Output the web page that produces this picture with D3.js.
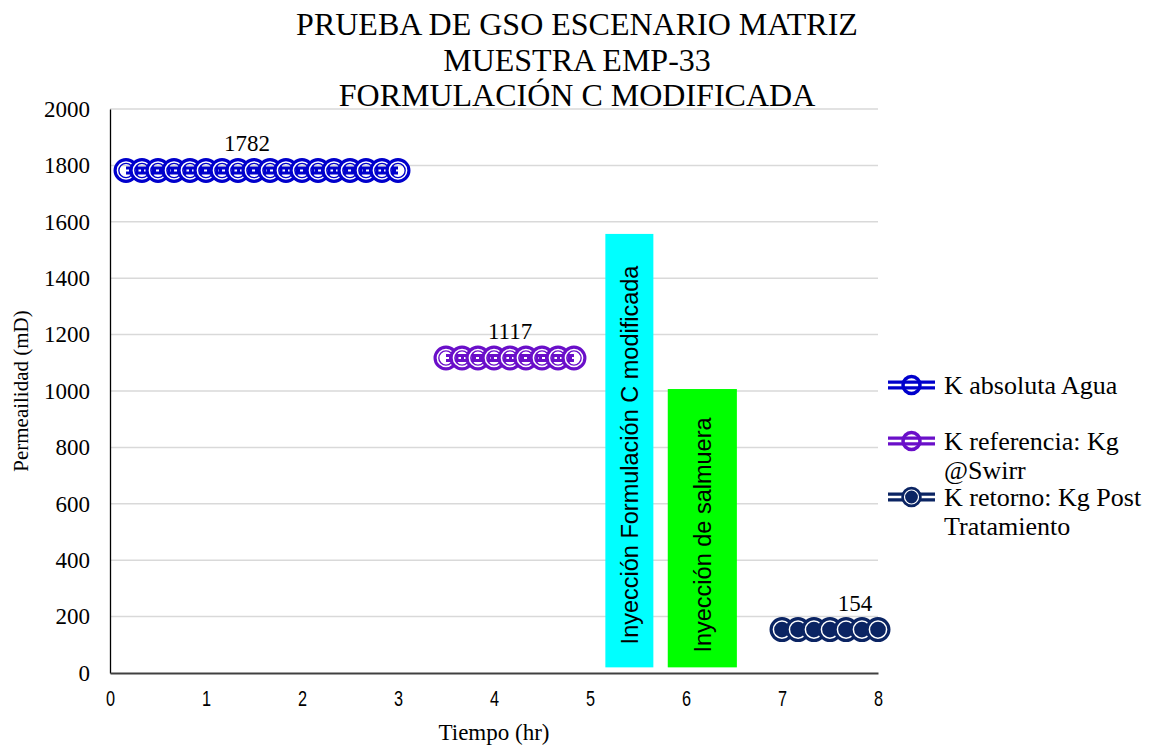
<!DOCTYPE html>
<html>
<head>
<meta charset="utf-8">
<script src="https://cdn.jsdelivr.net/npm/d3@7"></script>
<style>
  html, body { margin: 0; padding: 0; background: #fff; }
  svg { display: block; }
</style>
</head>
<body>
<svg id="chart" width="1152" height="746"></svg>
<script>
// ---- data ----
const titleLines = ["PRUEBA DE GSO ESCENARIO MATRIZ", "MUESTRA EMP-33", "FORMULACIÓN C MODIFICADA"];
const xTicks = [0, 1, 2, 3, 4, 5, 6, 7, 8];
const yTicks = [0, 200, 400, 600, 800, 1000, 1200, 1400, 1600, 1800, 2000];

// time in hours (10-minute readings) and permeability in mD
const aguaTime = [0.167, 0.333, 0.5, 0.667, 0.833, 1.0, 1.167, 1.333, 1.5, 1.667, 1.833, 2.0, 2.167, 2.333, 2.5, 2.667, 2.833, 3.0];
const aguaK    = [1782, 1782, 1782, 1782, 1782, 1782, 1782, 1782, 1782, 1782, 1782, 1782, 1782, 1782, 1782, 1782, 1782, 1782];
const refTime  = [3.5, 3.667, 3.833, 4.0, 4.167, 4.333, 4.5, 4.667, 4.833];
const refK     = [1117, 1117, 1117, 1117, 1117, 1117, 1117, 1117, 1117];
const retTime  = [7.0, 7.167, 7.333, 7.5, 7.667, 7.833, 8.0];
const retK     = [154, 154, 154, 154, 154, 154, 154];

const seriesNames  = ["K absoluta Agua", "K referencia: Kg @Swirr", "K retorno: Kg Post Tratamiento"];
const seriesColors = ["#0000cc", "#6a0fc9", "#0b2463"];
const labelIndex   = [8, 4, 5];

// injection stages: [start hr, end hr, low mD, high mD]
const stageNames  = ["Inyección Formulación C modificada", "Inyección de salmuera"];
const stageStart  = [5.16, 5.81];
const stageEnd    = [5.66, 6.53];
const stageLow    = [20, 20];
const stageHigh   = [1557, 1007];
const stageColors = ["#00ffff", "#00ff00"];

// ---- layout ----
const svg = d3.select("#chart");
const x = d3.scaleLinear().domain([0, 8]).range([110, 878]);
const y = d3.scaleLinear().domain([0, 2000]).range([673, 109]);

const serif = "'Liberation Serif', 'Times New Roman', serif";
const sans = "'Liberation Sans', Arial, sans-serif";

// title
svg.append("g").selectAll("text").data(titleLines).join("text")
  .attr("x", 577).attr("y", (d, i) => 35 + i * 35.5)
  .attr("text-anchor", "middle")
  .attr("font-family", serif).attr("font-size", 32).attr("fill", "#000")
  .text(d => d);

// gridlines
svg.append("g").selectAll("line").data(yTicks.filter(v => v > 0)).join("line")
  .attr("x1", x(0)).attr("x2", x(8))
  .attr("y1", d => y(d)).attr("y2", d => y(d))
  .attr("stroke", "#d9d9d9").attr("stroke-width", 1.5);

// y axis
const yAxis = svg.append("g").attr("transform", `translate(${x(0)},0)`)
  .call(d3.axisLeft(y).tickValues(yTicks).tickSize(0).tickPadding(20).tickFormat(d3.format("d")))
  .attr("font-family", serif).attr("font-size", 23);
yAxis.select(".domain").attr("stroke", "#000").attr("stroke-width", 1.3);
yAxis.selectAll("text").attr("fill", "#000");

// x axis (condensed sans labels)
const xAxis = svg.append("g").attr("transform", `translate(0,${y(0)})`)
  .call(d3.axisBottom(x).tickValues(xTicks).tickSize(0).tickPadding(17).tickFormat(d3.format("d")))
  .attr("font-family", sans).attr("font-size", 22);
xAxis.select(".domain").attr("stroke", "#404040").attr("stroke-width", 2);
xAxis.selectAll("text")
  .attr("transform", "scale(0.74,1)")
  .attr("fill", "#000");

// axis titles
svg.append("text").attr("x", 494).attr("y", 740).attr("text-anchor", "middle")
  .attr("font-family", serif).attr("font-size", 23).text("Tiempo (hr)");
svg.append("text").attr("transform", "translate(28,391) rotate(-90)").attr("text-anchor", "middle")
  .attr("font-family", serif).attr("font-size", 21).text("Permeailidad (mD)");

// injection stage blocks
const stageTextY = [455, 535];
const stages = svg.append("g");
stageNames.forEach((name, i) => {
  const x0 = x(stageStart[i]), x1 = x(stageEnd[i]);
  const y0 = y(stageLow[i]), y1 = y(stageHigh[i]);
  stages.append("rect")
    .attr("x", x0).attr("y", y1).attr("width", x1 - x0).attr("height", y0 - y1)
    .attr("fill", stageColors[i]);
  stages.append("text")
    .attr("transform", `translate(${(x0 + x1) / 2 + 9},${stageTextY[i]}) rotate(-90)`)
    .attr("text-anchor", "middle")
    .attr("font-family", sans).attr("font-size", 23.5).attr("fill", "#000")
    .text(name);
});

// series with double lines and double-ring markers
const seriesTimes = [aguaTime, refTime, retTime];
const seriesVals = [aguaK, refK, retK];
const labelDx = [-7, 0, -7];
const line = d3.line().x(d => x(d[0])).y(d => y(d[1]));

seriesTimes.forEach((times, s) => {
  const pts = times.map((t, i) => [t, seriesVals[s][i]]);
  const g = svg.append("g");
  const col = seriesColors[s];
  g.append("path").datum(pts).attr("d", line)
    .attr("fill", "none").attr("stroke", col).attr("stroke-width", 8);
  g.append("path").datum(pts).attr("d", line)
    .attr("fill", "none").attr("stroke", "#fff").attr("stroke-width", 2)
    .attr("stroke-dasharray", s === 2 ? "1,5" : "3,3").attr("opacity", s === 2 ? 0.5 : 1);
  const m = g.selectAll("g.m").data(pts).join("g").attr("class", "m")
    .attr("transform", d => `translate(${x(d[0])},${y(d[1])})`);
  m.append("circle").attr("r", 9.5)
    .attr("fill", s === 2 ? col : "none")
    .attr("stroke", col).attr("stroke-width", 6);
  m.append("circle").attr("r", 8.6)
    .attr("fill", "none").attr("stroke", "#fff").attr("stroke-width", 1.5);
  // value label
  const p = pts[labelIndex[s]];
  svg.append("text").attr("x", x(p[0]) + labelDx[s]).attr("y", y(p[1]) - 19)
    .attr("text-anchor", "middle")
    .attr("font-family", serif).attr("font-size", 23).attr("fill", "#000")
    .text(d3.format("d")(p[1]));
});

// legend
const legendRows = [[seriesNames[0]], ["K referencia: Kg", "@Swirr"], ["K retorno: Kg Post", "Tratamiento"]];
const legendY = [385, 441, 497];
legendRows.forEach((rows, i) => {
  const g = svg.append("g").attr("transform", `translate(0,${legendY[i]})`);
  const col = seriesColors[i];
  g.append("line").attr("x1", 888).attr("x2", 935).attr("y1", 0).attr("y2", 0)
    .attr("stroke", col).attr("stroke-width", 9);
  g.append("line").attr("x1", 888).attr("x2", 935).attr("y1", 0).attr("y2", 0)
    .attr("stroke", "#fff").attr("stroke-width", 2.5);
  g.append("circle").attr("cx", 911.5).attr("cy", 0).attr("r", 8.5)
    .attr("fill", i === 2 ? col : "none").attr("stroke", col).attr("stroke-width", 3.5);
  if (i === 2) {
    g.append("circle").attr("cx", 911.5).attr("cy", 0).attr("r", 7)
      .attr("fill", "none").attr("stroke", "#fff").attr("stroke-width", 1.2);
  }
  g.selectAll("text").data(rows).join("text")
    .attr("x", 944).attr("y", (d, k) => 9 + k * 29)
    .attr("font-family", serif).attr("font-size", 26).attr("fill", "#000")
    .text(d => d);
});
</script>
</body>
</html>
